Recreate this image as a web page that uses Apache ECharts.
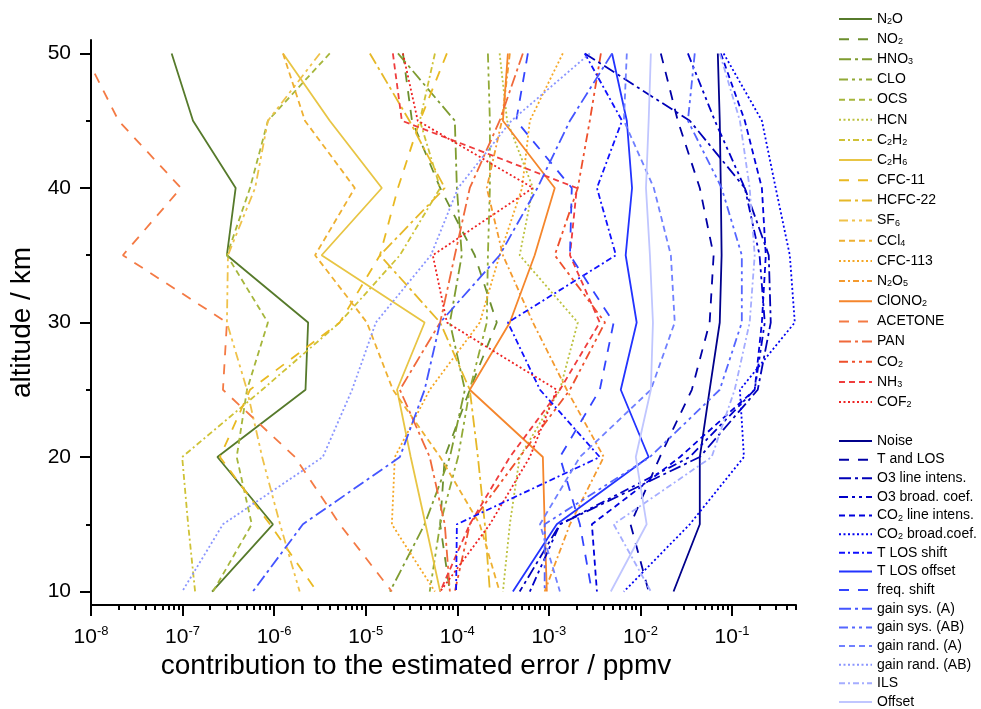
<!DOCTYPE html>
<html><head><meta charset="utf-8">
<script src="https://cdn.jsdelivr.net/npm/echarts@6/dist/echarts.min.js"></script>
<style>html,body{margin:0;padding:0;background:#fff}#c{width:981px;height:709px}</style>
</head><body><div id="c"></div>
<script>
// ---------------- data (altitude in km, contribution in ppmv) ----------------
const ALT = [50, 45, 40, 35, 30, 25, 20, 15, 10];
const ALT_ACETONE = [48.5, 45, 40, 35, 30, 25, 20, 15, 10];

const N2O     = [7.6e-8, 1.3e-7, 3.8e-7, 3.05e-7, 2.35e-6, 2.2e-6, 2.4e-7, 9.7e-7, 2.1e-7];
const NO2     = [2.55e-5, 3.2e-5, 6.5e-5, 1.55e-4, 2.7e-4, 1.37e-4, 7.3e-5, 6.5e-5, 8.3e-5];
const HNO3    = [2.25e-5, 9.4e-5, 9.9e-5, 1.12e-4, 8.3e-5, 1.21e-4, 8.3e-5, 4.4e-5, 1.84e-5];
const CLO     = [2.16e-4, 2.27e-4, 2.27e-4, 2.16e-4, 2.1e-4, 1.37e-4, 1.02e-4, 6.5e-5, 5.0e-5];
const OCS     = [4.05e-6, 8.55e-7, 5.45e-7, 3.05e-7, 8.55e-7, 5.05e-7, 3.9e-7, 5.7e-7, 2.15e-7];
const HCN     = [2.9e-4, 3.5e-4, 6.7e-4, 4.8e-4, 2.07e-3, 1.32e-3, 4.8e-4, 3.75e-4, 3.15e-4];
const C2H2    = [5.7e-5, 3.9e-5, 6.5e-5, 2.36e-5, 5.2e-6, 7.4e-7, 9.9e-8, 1.15e-7, 1.37e-7];
const C2H6    = [1.25e-6, 4.05e-6, 1.5e-5, 3.3e-6, 4.4e-5, 2.2e-5, 3.1e-5, 4.5e-5, 6.5e-5];
const CFC11   = [7.7e-5, 3.9e-5, 2.25e-5, 1.43e-5, 5.2e-6, 5.45e-7, 2.56e-7, 9.0e-7, 2.93e-6];
const HCFC22  = [1.11e-5, 3.0e-5, 7.3e-5, 1.43e-5, 6.5e-5, 1.37e-4, 1.68e-4, 2.0e-4, 2.27e-4];
const SF6     = [3.16e-6, 8.55e-7, 6.2e-7, 3.13e-7, 3.05e-7, 5.05e-7, 7.4e-7, 1.16e-6, 1.9e-6];
const CCL4    = [1.25e-6, 2.17e-6, 7.6e-6, 2.8e-6, 1.03e-5, 1.98e-5, 6.5e-5, 1.76e-4, 2.9e-4];
const CFC113  = [1.42e-3, 6.2e-4, 5.1e-4, 2.9e-4, 1.76e-4, 5.0e-5, 2.08e-5, 1.93e-5, 5.7e-5];
const N2O5    = [3.75e-4, 3.07e-4, 2.1e-4, 3.15e-4, 6.7e-4, 1.57e-3, 3.98e-3, 1.7e-3, 9.0e-4];
const CLONO2  = [3.57e-4, 3.15e-4, 1.16e-3, 7.0e-4, 3.75e-4, 1.37e-4, 8.6e-4, 9.0e-4, 9.5e-4];
const ACETONE = [1.1e-8, 2.0e-8, 9.6e-8, 2.23e-8, 3.05e-7, 2.76e-7, 1.69e-6, 5.2e-6, 1.93e-5];
const PAN     = [5.2e-4, 2.9e-4, 1.37e-4, 9.4e-5, 6.5e-5, 2.36e-5, 5.0e-5, 7.3e-5, 8.3e-5];
const CO2     = [3.7e-3, 2.8e-3, 2.07e-3, 1.16e-3, 4.1e-3, 1.7e-3, 4.8e-4, 1.37e-4, 9.4e-5];
const NH3     = [1.98e-5, 2.48e-5, 2.02e-3, 1.7e-3, 3.6e-3, 1.32e-3, 3.75e-4, 1.37e-4, 6.5e-5];
const COF2    = [2.55e-5, 3.7e-5, 6.7e-4, 5.4e-5, 7.7e-5, 1.22e-3, 6.2e-4, 2.27e-4, 6.5e-5];

const NOISE        = [7.0e-2, 7.35e-2, 7.55e-2, 7.7e-2, 7.35e-2, 5.7e-2, 4.45e-2, 4.45e-2, 2.3e-2];
const T_LOS        = [1.67e-2, 2.56e-2, 4.45e-2, 6.3e-2, 5.7e-2, 3.64e-2, 1.63e-2, 7.8e-3, 1.23e-2];
const O3_LINE      = [2.47e-3, 3.46e-2, 0.138, 0.252, 0.265, 0.191, 4.45e-2, 1.32e-3, 4.8e-4];
const O3_BROAD     = [3.3e-2, 6.5e-2, 0.138, 0.2, 0.228, 0.177, 3.46e-2, 1.32e-3, 6.2e-4];
const CO2_LINE     = [7.55e-2, 0.138, 0.212, 0.234, 0.212, 0.177, 2.7e-2, 2.95e-3, 3.35e-3];
const CO2_BROAD    = [8.1e-2, 0.212, 0.3, 0.428, 0.485, 0.122, 0.135, 3.46e-2, 6.6e-3];
const T_LOS_SHIFT  = [2.47e-3, 6.3e-3, 3.35e-3, 5.4e-3, 3.57e-4, 8.0e-4, 3.6e-3, 9.9e-5, 9.7e-5];
const T_LOS_OFFSET = [4.9e-3, 7.1e-3, 8.1e-3, 6.9e-3, 9.1e-3, 6.1e-3, 1.23e-2, 1.22e-3, 4.05e-4];
const FREQ_SHIFT   = [5.9e-4, 4.4e-4, 1.78e-3, 1.7e-3, 5.1e-3, 3.6e-3, 1.32e-3, 2.18e-3, 2.95e-3];
const GAIN_SYS_A   = [4.9e-3, 1.7e-3, 7.5e-4, 2.9e-4, 6.5e-5, 4.4e-5, 2.36e-5, 2.06e-6, 5.85e-7];
const GAIN_SYS_AB  = [3.92e-2, 3.3e-2, 7.7e-2, 0.128, 0.128, 7.35e-2, 1.27e-2, 9.0e-4, 9.0e-4];
const GAIN_RAND_A  = [7.1e-3, 6.6e-3, 1.4e-2, 2.15e-2, 2.37e-2, 1.3e-2, 2.18e-3, 8.0e-4, 1.32e-3];
const GAIN_RAND_AB = [2.8e-3, 3.9e-4, 1.02e-4, 5.15e-5, 1.29e-5, 7.1e-6, 3.4e-6, 2.76e-7, 9.9e-8];
const ILS          = [7.35e-2, 0.122, 0.156, 0.177, 0.156, 0.107, 6.0e-2, 5.1e-3, 1.3e-2];
const OFFSET       = [1.3e-2, 1.23e-2, 1.15e-2, 1.27e-2, 1.37e-2, 1.3e-2, 8.9e-3, 1.17e-2, 4.75e-3];

// tick labels
const X_TICKS = [1e-8, 1e-7, 1e-6, 1e-5, 1e-4, 1e-3, 1e-2, 1e-1];
const X_MINOR = [];
X_TICKS.forEach(d => { for (let m = 2; m <= 9; m++) { const v = m * d; if (v <= 0.5) X_MINOR.push(v); } });
const Y_TICKS = [10, 20, 30, 40, 50];
const Y_MINOR = [15, 25, 35, 45];

// ---------------- styles ----------------
const DASH = {
  solid: 'solid', long: [10, 9], dashdot: [12, 4, 3, 4], dashdotdot: [9, 4, 3, 4, 3, 4],
  short: [6, 4], dot: [2, 2.5], sdashdot: [6, 3, 2, 3]
};
const GROUP1 = [
  ['N2O', N2O, '#567a2b', 'solid'], ['NO2', NO2, '#6c8f2e', 'long'], ['HNO3', HNO3, '#7f9c30', 'dashdot'],
  ['CLO', CLO, '#92aa37', 'dashdotdot'], ['OCS', OCS, '#a6b63b', 'short'], ['HCN', HCN, '#bcc13f', 'dot'],
  ['C2H2', C2H2, '#cfc236', 'sdashdot'], ['C2H6', C2H6, '#e8c544', 'solid'], ['CFC-11', CFC11, '#e9b921', 'long'],
  ['HCFC-22', HCFC22, '#e6b828', 'dashdot'], ['SF6', SF6, '#efc24a', 'dashdotdot'], ['CCl4', CCL4, '#eeb031', 'short'],
  ['CFC-113', CFC113, '#f5a623', 'dot'], ['N2O5', N2O5, '#f49a2e', 'sdashdot'], ['ClONO2', CLONO2, '#f5862c', 'solid'],
  ['ACETONE', ACETONE, '#f47a44', 'long'], ['PAN', PAN, '#f0693b', 'dashdot'], ['CO2', CO2, '#ee4f2b', 'dashdotdot'],
  ['NH3', NH3, '#ef3d3d', 'short'], ['COF2', COF2, '#ee2222', 'dot']
];
const GROUP2 = [
  ['Noise', NOISE, '#00008b', 'solid'], ['T and LOS', T_LOS, '#0000a6', 'long'], ['O3 line intens.', O3_LINE, '#0000b8', 'dashdot'],
  ['O3 broad. coef.', O3_BROAD, '#0000c8', 'dashdotdot'], ['CO2 line intens.', CO2_LINE, '#0000dd', 'short'],
  ['CO2 broad.coef.', CO2_BROAD, '#0000f2', 'dot'], ['T LOS shift', T_LOS_SHIFT, '#1010ff', 'sdashdot'],
  ['T LOS offset', T_LOS_OFFSET, '#2233ff', 'solid'], ['freq. shift', FREQ_SHIFT, '#3344ff', 'long'],
  ['gain sys. (A)', GAIN_SYS_A, '#4455ff', 'dashdot'], ['gain sys. (AB)', GAIN_SYS_AB, '#5566ff', 'dashdotdot'],
  ['gain rand. (A)', GAIN_RAND_A, '#7080ff', 'short'], ['gain rand. (AB)', GAIN_RAND_AB, '#8a95ff', 'dot'],
  ['ILS', ILS, '#a5adff', 'sdashdot'], ['Offset', OFFSET, '#c0c6ff', 'solid']
];
const LABELS = {
  'N2O': 'N{s|2}O', 'NO2': 'NO{s|2}', 'HNO3': 'HNO{s|3}', 'C2H2': 'C{s|2}H{s|2}', 'C2H6': 'C{s|2}H{s|6}',
  'SF6': 'SF{s|6}', 'CCl4': 'CCl{s|4}', 'N2O5': 'N{s|2}O{s|5}', 'ClONO2': 'ClONO{s|2}', 'CO2': 'CO{s|2}',
  'NH3': 'NH{s|3}', 'COF2': 'COF{s|2}', 'CO2 line intens.': 'CO{s|2} line intens.', 'CO2 broad.coef.': 'CO{s|2} broad.coef.'
};
const FONT = 'Liberation Sans, Arial, Helvetica, sans-serif';

const series = GROUP1.concat(GROUP2).map(([name, vals, color, st]) => {
  const alts = name === 'ACETONE' ? ALT_ACETONE : ALT;
  return {
    name, type: 'line', xAxisIndex: 0, yAxisIndex: 0, symbol: 'none', showSymbol: false,
    data: vals.map((v, i) => [v, alts[i]]),
    lineStyle: { color, width: 1.8, type: DASH[st] }, itemStyle: { color, opacity: 0 },
    emphasis: { disabled: true }, silent: true, z: 2
  };
});

const legendBase = {
  orient: 'vertical', left: 838, itemWidth: 33, itemHeight: 14, padding: 0,
  selectedMode: false,
  itemStyle: { opacity: 0 },
  formatter: n => LABELS[n] || n,
  textStyle: {
    fontFamily: FONT, fontSize: 14, color: '#000', lineHeight: 14,
    rich: { s: { fontFamily: FONT, fontSize: 9, lineHeight: 4, verticalAlign: 'bottom', color: '#000' } }
  }
};

const chart = echarts.init(document.getElementById('c'), null, { renderer: 'canvas' });
chart.setOption({
  animation: false,
  backgroundColor: '#fff',
  grid: { left: 91, right: 185, top: 40, bottom: 104, containLabel: false },
  legend: [
    Object.assign({}, legendBase, { top: 12, height: 420, itemGap: 6.16, data: GROUP1.map(g => g[0]) }),
    Object.assign({}, legendBase, { top: 434, height: 300, itemGap: 4.64, data: GROUP2.map(g => g[0]) })
  ],
  xAxis: [
    {
      type: 'log', logBase: 10, min: 1e-8, max: 0.5, position: 'bottom',
      name: 'contribution to the estimated error / ppmv', nameLocation: 'middle', nameGap: 45,
      nameTextStyle: { fontFamily: FONT, fontSize: 28, color: '#000', padding: [0, 55, 0, 0] },
      axisLine: { onZero: false, lineStyle: { color: '#000', width: 2 } },
      axisTick: { length: 11, customValues: X_TICKS, lineStyle: { color: '#000', width: 2 } },
      axisLabel: {
        customValues: X_TICKS, margin: 20, color: '#000', fontFamily: FONT,
        formatter: v => '{b|10}{s|' + Math.round(Math.log10(v)) + '}',
        rich: {
          b: { fontFamily: FONT, fontSize: 21, lineHeight: 24, color: '#000' },
          s: { fontFamily: FONT, fontSize: 13, lineHeight: 14, verticalAlign: 'top', color: '#000' }
        }
      },
      splitLine: { show: false }, minorTick: { show: false }
    },
    {
      type: 'log', logBase: 10, min: 1e-8, max: 0.5, position: 'bottom',
      axisLine: { show: false, onZero: false },
      axisTick: { length: 5, customValues: X_MINOR, lineStyle: { color: '#000', width: 2 } },
      axisLabel: { show: false }, splitLine: { show: false }
    }
  ],
  yAxis: [
    {
      type: 'value', min: 9, max: 51, position: 'left',
      name: 'altitude / km', nameLocation: 'middle', nameGap: 50, nameRotate: 90,
      nameTextStyle: { fontFamily: FONT, fontSize: 28, color: '#000' },
      axisLine: { show: true, onZero: false, lineStyle: { color: '#000', width: 2 } },
      axisTick: { show: true, length: 11, customValues: Y_TICKS, lineStyle: { color: '#000', width: 2 } },
      axisLabel: { customValues: Y_TICKS, margin: 20, fontFamily: FONT, fontSize: 21, color: '#000' },
      splitLine: { show: false }
    },
    {
      type: 'value', min: 9, max: 51, position: 'left',
      axisLine: { show: false, onZero: false },
      axisTick: { show: true, length: 5, customValues: Y_MINOR, lineStyle: { color: '#000', width: 2 } },
      axisLabel: { show: false }, splitLine: { show: false }
    }
  ],
  series
});
</script></body></html>
